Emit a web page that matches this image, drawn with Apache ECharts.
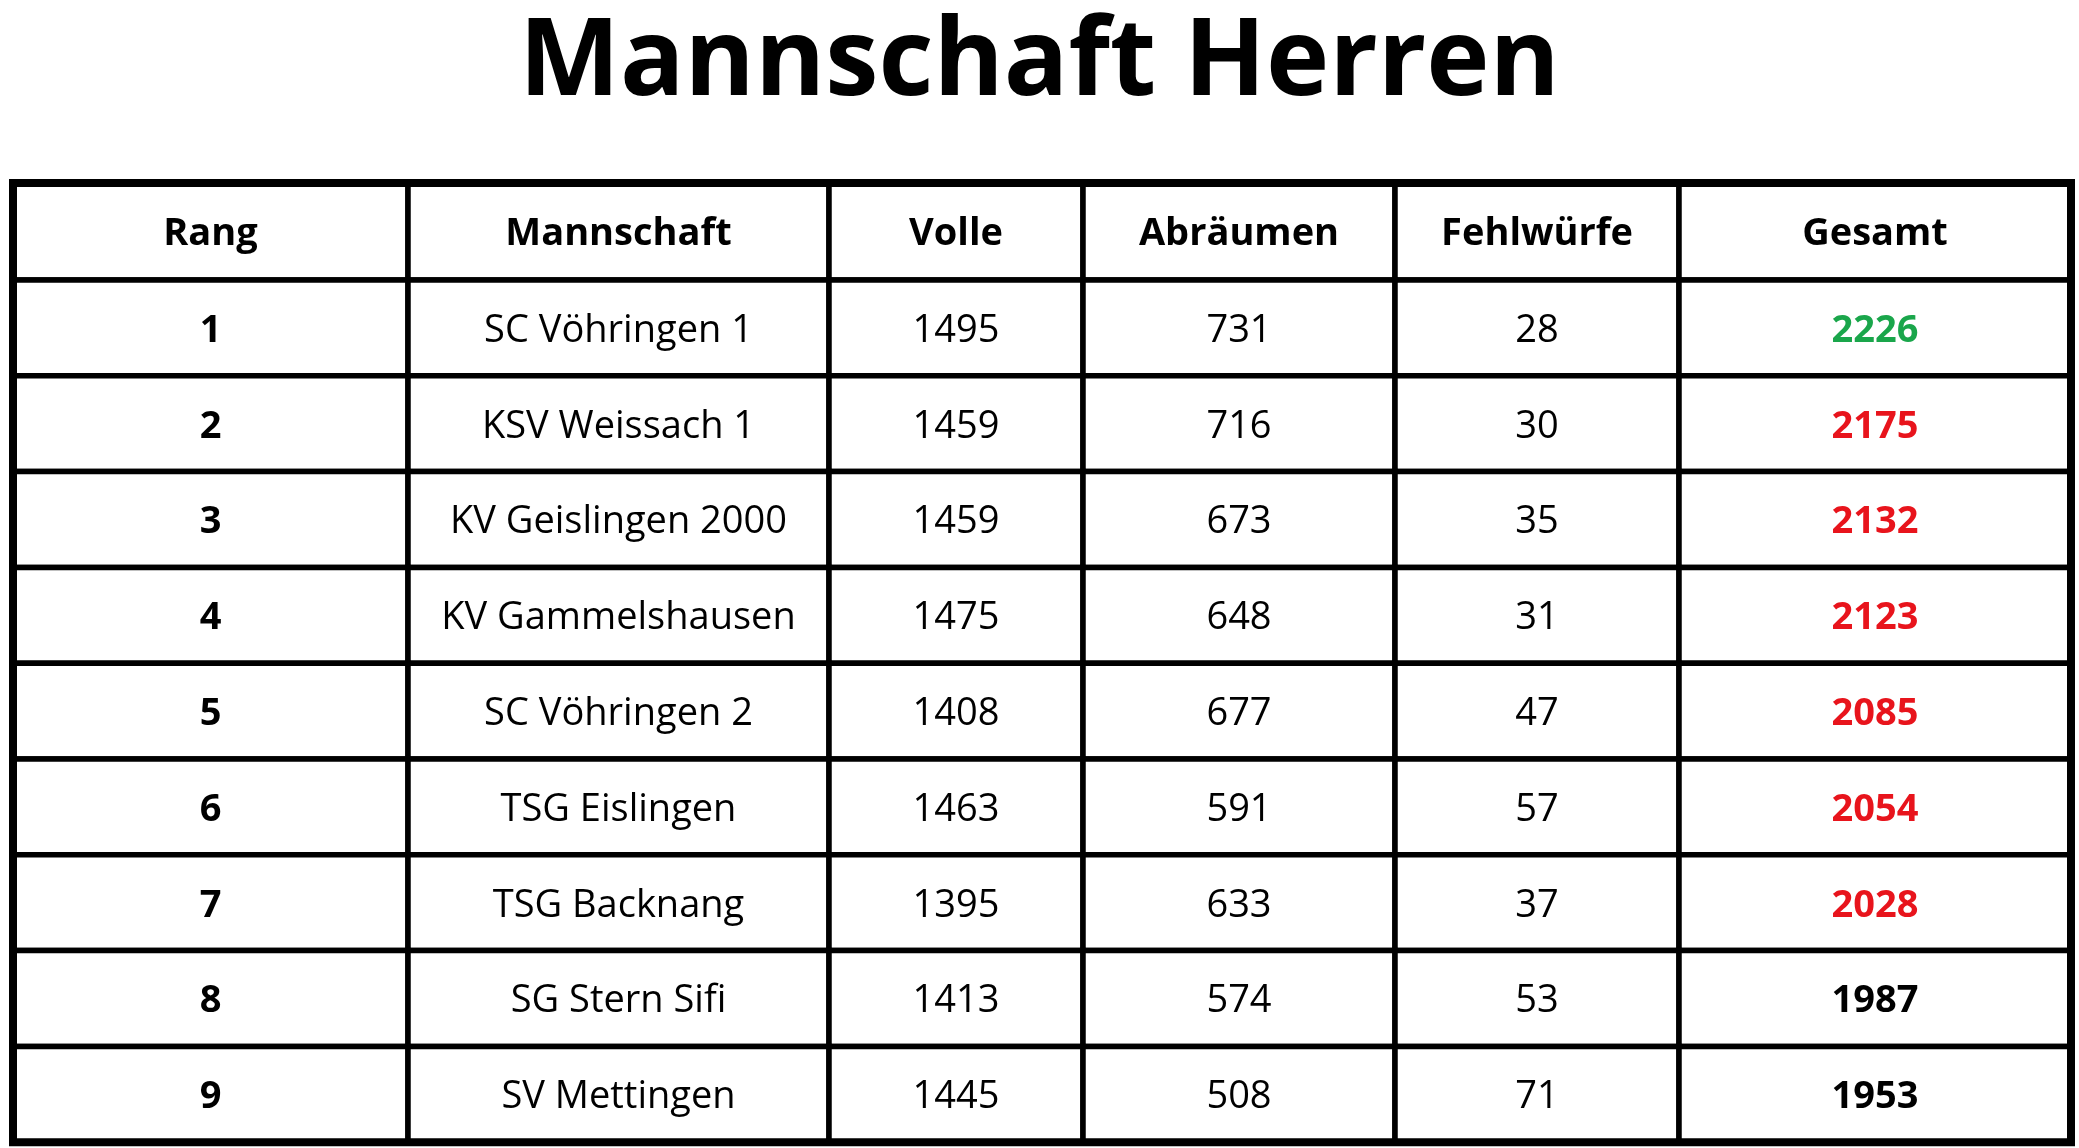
<!DOCTYPE html>
<html><head><meta charset="utf-8">
<script src="https://cdn.jsdelivr.net/npm/echarts@6/dist/echarts.min.js"></script>
<style>html,body{margin:0;padding:0;background:#fff}#c{width:2079px;height:1148px}</style>
</head><body><div id="c"></div>
<script>
const title = "Mannschaft Herren";
const headers = ["Rang","Mannschaft","Volle","Abräumen","Fehlwürfe","Gesamt"];
const rang = [1,2,3,4,5,6,7,8,9];
const teams = ["SC Vöhringen 1","KSV Weissach 1","KV Geislingen 2000","KV Gammelshausen","SC Vöhringen 2","TSG Eislingen","TSG Backnang","SG Stern Sifi","SV Mettingen"];
const volle = [1495,1459,1459,1475,1408,1463,1395,1413,1445];
const abraeumen = [731,716,673,648,677,591,633,574,508];
const fehlwuerfe = [28,30,35,31,47,57,37,53,71];
const gesamt = [2226,2175,2132,2123,2085,2054,2028,1987,1953];

const colX = [13,408,829,1083,1395,1679,2071];
const top0 = 183, headH = 97, rowH = 95.8;
const gesamtColor = i => i===0 ? '#1aa64b' : (i<7 ? '#e8141c' : '#000');

const cells = [];
headers.forEach((h,c)=>cells.push([c,-1,h,1,'#000']));
rang.forEach((r,i)=>{
  const vals=[r,teams[i],volle[i],abraeumen[i],fehlwuerfe[i],gesamt[i]];
  vals.forEach((v,c)=>cells.push([c,i,String(v),(c===0||c===5)?1:0,c===5?gesamtColor(i):'#000']));
});

const chart = echarts.init(document.getElementById('c'));
chart.setOption({
  animation:false,
  title:{text:title,left:'center',top:6,textStyle:{fontFamily:'Open Sans',fontWeight:'bold',fontSize:107,color:'#000'}},
  grid:{left:0,right:0,top:0,bottom:0},
  xAxis:{type:'value',min:0,max:2079,show:false},
  yAxis:{type:'value',min:0,max:1148,inverse:true,show:false},
  series:[{
    type:'custom',
    data:cells,
    renderItem:(params,api)=>{
      const c=api.value(0), r=api.value(1);
      const y0 = r<0 ? top0 : top0+headH+r*rowH;
      const h = r<0 ? headH : rowH;
      const p0 = api.coord([colX[c],y0]), p1 = api.coord([colX[c+1],y0+h]);
      const d = cells[params.dataIndex];
      return {type:'group',children:[
        {type:'rect',shape:{x:p0[0],y:p0[1],width:p1[0]-p0[0],height:p1[1]-p0[1]},style:{fill:'#fff',stroke:'#000',lineWidth:5.5}},
        {type:'text',style:{x:(p0[0]+p1[0])/2,y:(p0[1]+p1[1])/2+3,text:d[2],align:'center',verticalAlign:'middle',
          fontFamily:'Open Sans',fontSize:38,fontWeight:d[3]?'bold':'normal',fill:d[4]}}
      ]};
    }
  },{
    type:'custom',
    data:[[0]],
    renderItem:(params,api)=>{
      const p0=api.coord([colX[0],top0]), p1=api.coord([colX[6],top0+headH+9*rowH]);
      return {type:'rect',shape:{x:p0[0],y:p0[1],width:p1[0]-p0[0],height:p1[1]-p0[1]},style:{fill:'none',stroke:'#000',lineWidth:8}};
    }
  }]
});
</script></body></html>
